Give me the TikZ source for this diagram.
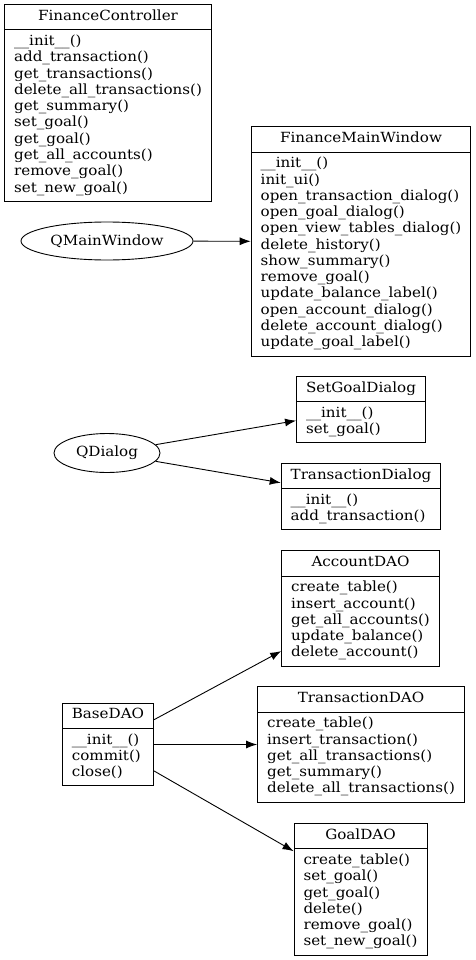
\documentclass[tikz,border=0pt]{standalone}
\usepackage{fontspec}
\setmainfont{DejaVu Serif}[FakeStretch=1.08]
\usepackage{tikz}
\usetikzlibrary{shapes.multipart}
\usetikzlibrary{shapes.geometric}
\usetikzlibrary{arrows.meta}
\newcommand{\methodlist}[1]{\begin{tabular}{@{}l@{}}#1\end{tabular}}

\begin{document}
\begin{tikzpicture}[x=1pt, y=-1pt,
    >={Latex[length=11pt,width=8pt]},
    every node/.style={font=\fontsize{14}{16.26}\selectfont},
    classbox/.style={draw, line width=0.9pt, rectangle split, rectangle split parts=2,
      rectangle split part align={center,left}, inner xsep=9.5pt, inner ysep=4pt},
    basebox/.style={draw, line width=0.9pt, ellipse, inner sep=0pt},
    inherit/.style={->, line width=0.9pt}]
  \useasboundingbox (0,0) rectangle (475,960);

  \node[classbox] (ctrl) at (108,103) {\methodlist{FinanceController}\nodepart{two}\methodlist{%
    \_\_init\_\_()\\ add\_transaction()\\ get\_transactions()\\ delete\_all\_transactions()\\
    get\_summary()\\ set\_goal()\\ get\_goal()\\ get\_all\_accounts()\\ remove\_goal()\\ set\_new\_goal()}};

  \node[basebox, minimum width=172pt, minimum height=38pt] (qmain) at (107,241) {QMainWindow};
  \node[classbox] (mainwin) at (361,241.5) {\methodlist{FinanceMainWindow}\nodepart{two}\methodlist{%
    \_\_init\_\_()\\ init\_ui()\\ open\_transaction\_dialog()\\ open\_goal\_dialog()\\
    open\_view\_tables\_dialog()\\ delete\_history()\\ show\_summary()\\ remove\_goal()\\
    update\_balance\_label()\\ open\_account\_dialog()\\ delete\_account\_dialog()\\ update\_goal\_label()}};
  \draw[inherit] (qmain) -- (mainwin);

  \node[basebox, minimum width=106pt, minimum height=39pt] (qdialog) at (107,453) {QDialog};
  \node[classbox] (goaldlg) at (361,409.5) {\methodlist{SetGoalDialog}\nodepart{two}\methodlist{%
    \_\_init\_\_()\\ set\_goal()}};
  \node[classbox] (transdlg) at (361,496.5) {\methodlist{TransactionDialog}\nodepart{two}\methodlist{%
    \_\_init\_\_()\\ add\_transaction()}};
  \draw[inherit] (qdialog) -- (goaldlg);
  \draw[inherit] (qdialog) -- (transdlg);

  \node[classbox] (basedao) at (108,744.5) {\methodlist{BaseDAO}\nodepart{two}\methodlist{%
    \_\_init\_\_()\\ commit()\\ close()}};
  \node[classbox] (accdao) at (360.5,608.5) {\methodlist{AccountDAO}\nodepart{two}\methodlist{%
    create\_table()\\ insert\_account()\\ get\_all\_accounts()\\ update\_balance()\\ delete\_account()}};
  \node[classbox] (transdao) at (361,744.5) {\methodlist{TransactionDAO}\nodepart{two}\methodlist{%
    create\_table()\\ insert\_transaction()\\ get\_all\_transactions()\\ get\_summary()\\ delete\_all\_transactions()}};
  \node[classbox] (goaldao) at (360.5,889.5) {\methodlist{GoalDAO}\nodepart{two}\methodlist{%
    create\_table()\\ set\_goal()\\ get\_goal()\\ delete()\\ remove\_goal()\\ set\_new\_goal()}};
  \draw[inherit] (basedao) -- (accdao);
  \draw[inherit] (basedao) -- (transdao);
  \draw[inherit] (basedao) -- (goaldao);
\end{tikzpicture}
\end{document}
